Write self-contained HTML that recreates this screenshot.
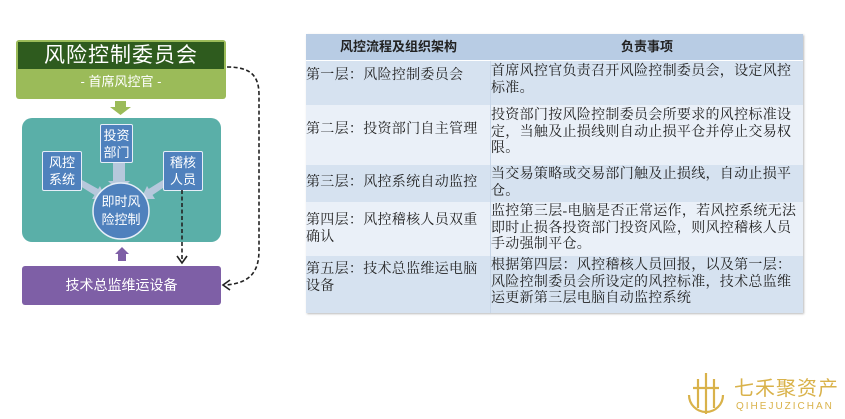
<!DOCTYPE html>
<html><head><meta charset="utf-8"><style>
body{margin:0;width:845px;height:419px;background:#fff;position:relative;overflow:hidden;font-family:"Liberation Sans","Noto Sans CJK SC",sans-serif}
.a{position:absolute}
.tb{font-family:"Liberation Serif","Noto Serif CJK SC",serif;font-size:14px;letter-spacing:0.3px;line-height:16.7px;color:#222}
.sq{background:#4f81bd;border:1.5px solid #e6eef8;color:#fff;font-size:13px;line-height:17px;text-align:center;box-sizing:border-box;border-radius:2px;display:flex;align-items:center;justify-content:center}
</style></head><body>
<div class="a" style="left:16px;top:40px;width:210px;height:59px;background:#9bbb59;border-radius:3px"></div>
<div class="a" style="left:18px;top:42px;width:206px;height:27px;background:#2e5b1e;color:#fff;font-size:21px;line-height:27px;text-align:center;letter-spacing:1px">风险控制委员会</div>
<div class="a" style="left:16px;top:71px;width:210px;height:22px;color:#fff;font-size:13px;line-height:22px;text-align:center">- 首席风控官 -</div>
<svg class="a" style="left:0;top:0" width="300" height="320">
<polygon points="115,101 126,101 126,107 131,107 120.5,115 110,107 115,107" fill="#9bbb59"/>
</svg>
<div class="a" style="left:22px;top:118px;width:199px;height:124px;background:#5aafa8;border-radius:10px"></div>
<svg class="a" style="left:0;top:0" width="300" height="320">
<g fill="#b6c8dc">
<rect x="113" y="163" width="12" height="18"/><polygon points="108,181 130,181 119,192"/>
<polygon points="82,180 100,190 96,196 80,186"/><polygon points="100,186 106,199 92,199"/>
<polygon points="163,180 147,190 151,196 166,186"/><polygon points="147,186 141,199 155,199"/>
</g>
<circle cx="121" cy="211" r="28" fill="#4f81bd" stroke="#e6eef8" stroke-width="1.5"/>
<polygon points="122,247 129,254 126,254 126,261 118,261 118,254 115,254" fill="#7e5fa6"/>
</svg>
<div class="a sq" style="left:100px;top:124px;width:33px;height:39px">投资<br>部门</div>
<div class="a sq" style="left:42px;top:151px;width:40px;height:40px">风控<br>系统</div>
<div class="a sq" style="left:163px;top:151px;width:40px;height:40px">稽核<br>人员</div>
<div class="a" style="left:93px;top:193px;width:56px;text-align:center;color:#fff;font-size:13px;line-height:18px">即时风<br>险控制</div>
<div class="a" style="left:22px;top:266px;width:199px;height:39px;background:#7e5fa6;border-radius:3px;color:#fff;font-size:14px;line-height:39px;text-align:center">技术总监维运设备</div>
<svg class="a" style="left:0;top:0" width="300" height="320">
<g fill="none" stroke="#222" stroke-width="1.6" stroke-dasharray="4,2.5">
<path d="M227,67 C250,67 259,75 259,95 L259,250 C259,272 250,283 226,285"/>
<path d="M182,190 L182,260"/>
</g>
<path d="M177,256 L182,263 L187,256" fill="none" stroke="#222" stroke-width="1.6"/>
<path d="M230,280 L223,285 L230,290" fill="none" stroke="#222" stroke-width="1.6"/>
</svg>
<div class="a" style="left:306px;top:34px;width:497px;height:279px;box-shadow:1px 1px 2px #bbb"></div>
<div class="a" style="left:306px;top:34px;width:497px;height:26px;background:#b8cce4;border-bottom:1px solid #fff"></div>
<div class="a" style="left:306px;top:34px;width:185px;line-height:26px;text-align:center;font-size:13px;font-weight:bold;color:#222">风控流程及组织架构</div>
<div class="a" style="left:491px;top:34px;width:312px;line-height:26px;text-align:center;font-size:13px;font-weight:bold;color:#222">负责事项</div>
<div class="a" style="left:306px;top:61px;width:497px;height:44px;background:#d6e2f0"></div>
<div class="a" style="left:306px;top:105px;width:497px;height:60px;background:#eaf0f8"></div>
<div class="a" style="left:306px;top:165px;width:497px;height:37px;background:#d6e2f0"></div>
<div class="a" style="left:306px;top:202px;width:497px;height:54px;background:#eaf0f8"></div>
<div class="a" style="left:306px;top:256px;width:497px;height:57px;background:#d6e2f0"></div>
<div class="a" style="left:490px;top:61px;width:1px;height:252px;background:#c8d6e8"></div>
<div class="a tb" style="left:306px;top:68px">第一层：风险控制委员会</div>
<div class="a tb" style="left:491px;top:64px">首席风控官负责召开风险控制委员会，设定风控<br>标准。</div>
<div class="a tb" style="left:306px;top:122px">第二层：投资部门自主管理</div>
<div class="a tb" style="left:491px;top:108px">投资部门按风险控制委员会所要求的风控标准设<br>定，当触及止损线则自动止损平仓并停止交易权<br>限。</div>
<div class="a tb" style="left:306px;top:175px">第三层：风控系统自动监控</div>
<div class="a tb" style="left:491px;top:167px">当交易策略或交易部门触及止损线，自动止损平<br>仓。</div>
<div class="a tb" style="left:306px;top:213px">第四层：风控稽核人员双重<br>确认</div>
<div class="a tb" style="left:491px;top:204px">监控第三层-电脑是否正常运作，若风控系统无法<br>即时止损各投资部门投资风险，则风控稽核人员<br>手动强制平仓。</div>
<div class="a tb" style="left:306px;top:262px">第五层：技术总监维运电脑<br>设备</div>
<div class="a tb" style="left:491px;top:258px">根据第四层：风控稽核人员回报，以及第一层：<br>风险控制委员会所设定的风控标准，技术总监维<br>运更新第三层电脑自动监控系统</div>
<svg class="a" style="left:685px;top:370px" width="45" height="48">
<g fill="none" stroke="#d9b24a" stroke-width="2.2">
<path d="M4,25 A17,17 0 1 0 38,25"/>
<path d="M21,3 L21,44 M13,9 L13,38 M29,9 L29,38 M8,18 L34,18"/>
</g></svg>
<div class="a" style="left:734px;top:378px;color:#d9b24a;font-size:20px;letter-spacing:1px;line-height:22px">七禾聚资产</div>
<div class="a" style="left:736px;top:401px;color:#d9b24a;font-size:10px;letter-spacing:2px;line-height:12px">QIHEJUZICHAN</div>
</body></html>
